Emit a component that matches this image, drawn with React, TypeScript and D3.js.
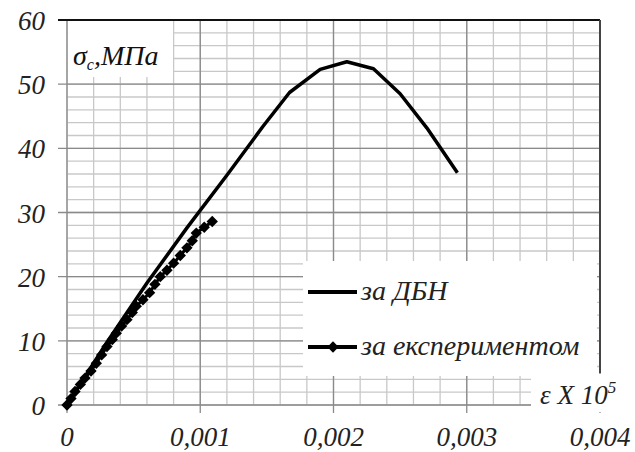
import { useMemo } from "react";
import * as d3 from "d3";

// strain (ε) and stress (σ, MPa)
const dbnStrain = [0, 0.0003, 0.0006, 0.0009, 0.0012, 0.00147, 0.00167, 0.0019, 0.0021, 0.0023, 0.0025, 0.0027, 0.00293];
const dbnStress = [0, 9.8, 19.0, 27.6, 35.8, 43.4, 48.7, 52.3, 53.5, 52.4, 48.5, 43.2, 36.2];

const expStrain = [
    0, 0.00003, 0.00006, 0.0001, 0.000135, 0.00018, 0.00022, 0.00026, 0.0003, 0.00034, 0.00037,
    0.00041, 0.00045, 0.00049, 0.00052, 0.00057, 0.00062, 0.00066, 0.0007, 0.00075, 0.0008,
    0.00085, 0.0009, 0.00094, 0.00097, 0.00103, 0.00109,
];
const expStress = [
    0, 1.0, 2.1, 3.2, 4.2, 5.3, 6.5, 7.8, 9.1, 10.2, 11.2,
    12.3, 13.3, 14.4, 15.4, 16.4, 17.5, 18.8, 20.0, 21.0, 22.1,
    23.3, 24.5, 25.6, 26.8, 27.7, 28.6,
];

const xTicks = [0, 0.001, 0.002, 0.003, 0.004];
const yTicks = [0, 10, 20, 30, 40, 50, 60];
const seriesNames = ["за ДБН", "за експериментом"];

const W = 635;
const H = 452;
const FONT = "Liberation Serif";

export default function App() {
    const x = d3.scaleLinear().domain([0, 0.004]).range([67, 600]);
    const y = d3.scaleLinear().domain([0, 60]).range([405, 20]);

    const line = d3.line<[number, number]>().x(d => x(d[0])).y(d => y(d[1]));
    const dbn = dbnStrain.map((e, i) => [e, dbnStress[i]] as [number, number]);
    const exp = expStrain.map((e, i) => [e, expStress[i]] as [number, number]);
    const diamond = useMemo(() => d3.symbol(d3.symbolSquare, 64)() as string, []);

    const minorX = d3.range(0, 0.0040001, 0.0002);
    const minorY = d3.range(0, 60.001, 2);
    const fmt = (v: number) => (v === 0 ? "0" : d3.format(".3f")(v).replace(".", ","));

    const txt = { fontFamily: FONT, fontStyle: "italic" as const };

    return (
        <svg width={W} height={H} style={{ position: "absolute", left: 0, top: 0, background: "#fff" }}>
            {/* minor grid */}
            {minorX.map(v => (
                <line key={"mx" + v} x1={x(v)} x2={x(v)} y1={y(60)} y2={y(0)} stroke="#c8c8c8" strokeWidth={1.3} />
            ))}
            {minorY.map(v => (
                <line key={"my" + v} x1={x(0)} x2={x(0.004)} y1={y(v)} y2={y(v)} stroke="#c8c8c8" strokeWidth={1.3} />
            ))}
            {/* major grid */}
            {xTicks.map(v => (
                <line key={"gx" + v} x1={x(v)} x2={x(v)} y1={y(60)} y2={y(0) + 8} stroke="#8a8a8a" strokeWidth={1.3} />
            ))}
            {yTicks.map(v => (
                <line key={"gy" + v} x1={x(0) - 9} x2={x(0.004)} y1={y(v)} y2={y(v)} stroke="#8a8a8a" strokeWidth={1.3} />
            ))}
            <line x1={x(0) - 9} x2={x(0.004)} y1={y(60)} y2={y(60)} stroke="#111" strokeWidth={2} />
            <line x1={x(0.004)} x2={x(0.004)} y1={y(60)} y2={373} stroke="#444" strokeWidth={2} />

            {/* y axis title box */}
            <rect x={x(0) + 1} y={y(60) + 1} width={105} height={56} fill="#fff" />
            <text x={73} y={65} style={txt} fontSize={28} fill="#111">
                <tspan>σ</tspan>
                <tspan fontSize={16} dy={5}>c</tspan>
                <tspan dy={-5}>,МПа</tspan>
            </text>

            {/* series */}
            <path d={line(dbn) ?? ""} fill="none" stroke="#000" strokeWidth={3.5} strokeLinejoin="round" />
            <path d={line(exp) ?? ""} fill="none" stroke="#000" strokeWidth={3} strokeLinejoin="round" />
            {exp.map((d, i) => (
                <path key={"d" + i} d={diamond} transform={`translate(${x(d[0])},${y(d[1])}) rotate(45)`} fill="#000" />
            ))}

            {/* legend */}
            <rect x={303} y={261} width={294} height={115} fill="#fff" />
            <line x1={308} x2={357} y1={292} y2={292} stroke="#000" strokeWidth={4} />
            <line x1={308} x2={357} y1={347} y2={347} stroke="#000" strokeWidth={4} />
            <path d={diamond} transform="translate(333,347) rotate(45)" fill="#000" />
            {seriesNames.map((name, i) => (
                <text key={name} x={361} y={300 + i * 55} style={txt} fontSize={28} fill="#222">
                    {name}
                </text>
            ))}

            {/* x axis title box */}
            <rect x={531} y={374} width={104} height={38} fill="#fff" />
            <text x={540} y={404} style={txt} fontSize={27} fill="#222">
                <tspan>ε X 10</tspan>
                <tspan fontSize={17} dy={-11}>5</tspan>
            </text>

            {/* tick labels */}
            {yTicks.map(v => (
                <text key={"yl" + v} x={45} y={y(v) + 10} textAnchor="end" style={txt} fontSize={27} fill="#222">
                    {v}
                </text>
            ))}
            {xTicks.map(v => (
                <text key={"xl" + v} x={x(v)} y={446} textAnchor="middle" style={txt} fontSize={27} fill="#222">
                    {fmt(v)}
                </text>
            ))}
        </svg>
    );
}
